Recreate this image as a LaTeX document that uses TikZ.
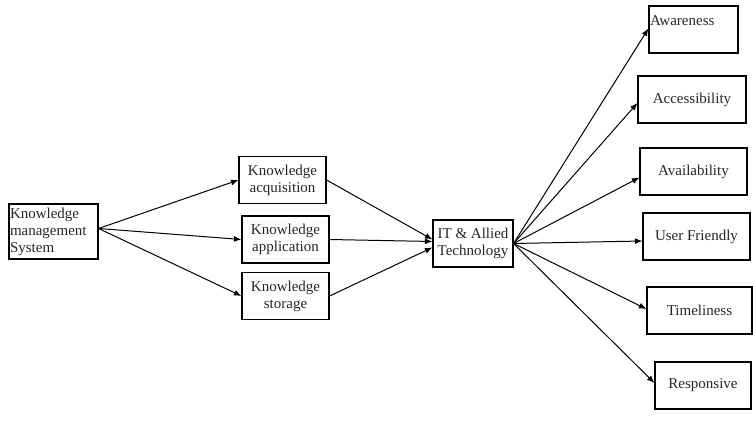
\documentclass[tikz,border=0pt]{standalone}
\usepackage{fontspec}
\setmainfont{Liberation Serif}
\usetikzlibrary{arrows.meta}

\begin{document}
\begin{tikzpicture}[x=1pt,y=-1pt]

  \definecolor{txtcol}{rgb}{0.15,0.15,0.15}

 \useasboundingbox (0,0) rectangle (753,422);

 % left column
 \coordinate (k0) at (53.5,231.5);

 % middle column
 \coordinate (m1) at (282.5,180);
 \coordinate (m2) at (285.5,239.5);
 \coordinate (m3) at (285.5,296);

 \coordinate (t) at (473,243.5);

 % right column
 \coordinate (r1) at (693.5,29.5);
 \coordinate (r2) at (692,99.5);
 \coordinate (r3) at (693.5,171.5);
 \coordinate (r4) at (696.5,236.5);
 \coordinate (r5) at (699.5,310.5);
 \coordinate (r6) at (703,385.5);

 \tikzset{
      boxstl/.style={draw,line width=1.1pt,minimum height=47pt,inner sep=1pt,
        text=txtcol,font=\fontsize{15}{17}\selectfont},
      arrstl/.style={line width=1pt,-{Latex[length=7.5pt,width=6pt]}},
    }

 \node[boxstl,minimum height=55pt,text width=87pt,align=left] (kms) at (k0)
   {Knowledge\\management\\System};

 \node[boxstl,minimum width=87pt,align=center] (acq) at (m1) {Knowledge\\acquisition};
 \node[boxstl,minimum width=87pt,align=center] (app) at (m2) {Knowledge\\application};
 \node[boxstl,minimum width=87pt,align=center] (sto) at (m3) {Knowledge\\storage};

 \node[boxstl,minimum width=80pt,align=center] (it) at (t) {IT \& Allied\\Technology};

 \node[boxstl,text width=87pt,align=left] (awa) at (r1) {Awareness\\~};
 \node[boxstl,minimum width=108pt] (acc) at (r2) {Accessibility};
 \node[boxstl,minimum width=107pt] (avl) at (r3) {Availability};
 \node[boxstl,minimum width=107pt] (usr) at (r4) {User Friendly};
 \node[boxstl,minimum width=105pt] (tim) at (r5) {Timeliness};
 \node[boxstl,minimum width=96pt] (res) at (r6) {Responsive};

 \coordinate (ks) at ([yshift=3pt]kms.east);

 \draw[arrstl] (ks) -- (acq.west);
 \draw[arrstl] (ks) -- (app.west);
 \draw[arrstl] (ks) -- (sto.west);

 \draw[arrstl] (acq.east) -- ([yshift=4pt]it.west);
 \draw[arrstl] (app.east) -- ([yshift=2pt]it.west);
 \draw[arrstl] (sto.east) -- ([yshift=-4pt]it.west);

 \foreach \n/\dy in {awa/1,acc/-3.5,avl/-6,usr/-4.5,tim/1.5,res/2.5}
   \draw[arrstl] (it.east) -- ([yshift=\dy pt]\n.west);
\end{tikzpicture}
\end{document}
